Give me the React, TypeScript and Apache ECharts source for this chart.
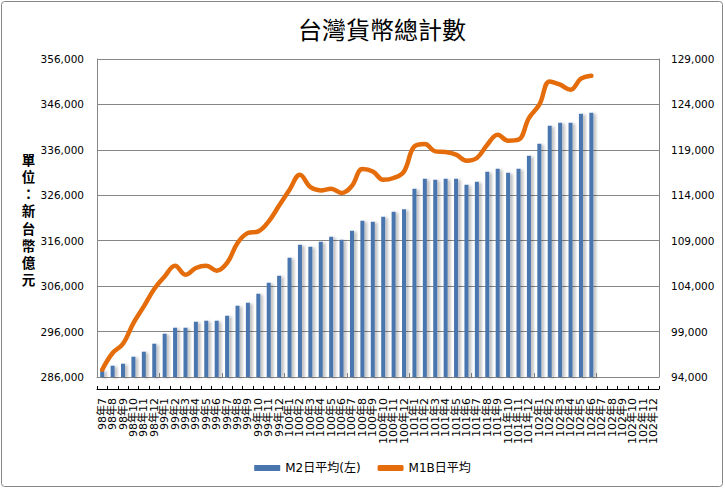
import React, { useEffect, useRef } from "react";
import * as echarts from "echarts";

const TITLE = "台灣貨幣總計數";
const UNIT_LABEL = "單位：新台幣億元";
const SERIES_M2 = "M2日平均(左)";
const SERIES_M1B = "M1B日平均";

const categories: string[] = [
  "98年7", "98年8", "98年9", "98年10", "98年11", "98年12",
  "99年1", "99年2", "99年3", "99年4", "99年5", "99年6", "99年7", "99年8", "99年9", "99年10", "99年11", "99年12",
  "100年1", "100年2", "100年3", "100年4", "100年5", "100年6", "100年7", "100年8", "100年9", "100年10", "100年11", "100年12",
  "101年1", "101年2", "101年3", "101年4", "101年5", "101年6", "101年7", "101年8", "101年9", "101年10", "101年11", "101年12",
  "102年1", "102年2", "102年3", "102年4", "102年5", "102年6", "102年7", "102年8", "102年9", "102年10", "102年11", "102年12",
];

const m2Values: (number | null)[] = [
  287450, 288490, 288930, 290470, 291570, 293330,
  295530, 296850, 296850, 298170, 298390, 298390, 299490, 301690, 302350, 304330, 306750, 308290,
  312260, 315120, 314680, 315780, 316880, 316220, 318200, 320400, 320180, 321280, 322380, 322900,
  327450, 329650, 329430, 329650, 329650, 328330, 328990, 331190, 331850, 330970, 331850, 334710,
  337350, 341310, 341970, 341970, 343950, 344170, null, null, null, null, null, null,
];

const m1bValues: (number | null)[] = [
  94800, 96640, 97660, 99940, 101770, 103690,
  105070, 106250, 105260, 106000, 106250, 105700, 106550, 108750, 109850, 110030, 111130, 112870,
  114610, 116270, 114910, 114540, 114720, 114250, 115050, 116890, 116630, 115710, 115900, 116630,
  119380, 119640, 118830, 118760, 118470, 117810, 118100, 119570, 120670, 120010, 120120, 122500,
  123970, 126530, 126170, 125620, 126830, 127160, null, null, null, null, null, null,
];

const leftAxis = { min: 286000, max: 356000, interval: 10000 };
const rightAxis = { min: 94000, max: 129000, interval: 5000 };

const NUM_FONT = "'DejaVu Sans', 'Noto Sans CJK TC', sans-serif";
const CJK_FONT = "'Noto Sans CJK TC', sans-serif";
const GRID_GRAY = "#868686";

const fmt = (v: number) => v.toLocaleString("en-US");

export default function App() {
  const ref = useRef<HTMLDivElement>(null);

  useEffect(() => {
    document.body.style.margin = "0";
    if (!ref.current) return;
    const chart = echarts.init(ref.current, undefined, { renderer: "svg" });
    const unitChars = UNIT_LABEL.split("");
    const step = 17.2;
    const unitTexts = unitChars.map((ch, i) => ({
      type: "text",
      x: 28.5,
      y: 220 + (i - (unitChars.length - 1) / 2) * step,
      style: {
        text: ch,
        fontFamily: NUM_FONT,
        fontSize: 13.5,
        lineHeight: 14,
        fontWeight: "bold",
        fill: "#000",
        align: "center",
        verticalAlign: "middle",
      },
    }));
    chart.setOption({
      animation: false,
      backgroundColor: "#ffffff",
      title: {
        text: TITLE,
        left: 377,
        top: 11,
        textAlign: "center",
        textStyle: { fontFamily: CJK_FONT, fontSize: 24, fontWeight: "normal", color: "#000" },
      },
      legend: {
        left: "center",
        top: 457,
        itemWidth: 26,
        itemHeight: 6,
        itemGap: 17,
        textStyle: { fontFamily: NUM_FONT, fontSize: 12, color: "#000" },
        data: [
          { name: SERIES_M2, icon: "rect" },
          { name: SERIES_M1B, icon: "roundRect" },
        ],
      },
      grid: { left: 97, right: 66, top: 59, height: 318, containLabel: false },
      xAxis: [
        {
          type: "category",
          data: categories,
          position: "bottom",
          axisLine: { show: true, lineStyle: { color: GRID_GRAY, width: 1 } },
          axisTick: { show: true, inside: true, length: 4, lineStyle: { color: GRID_GRAY } },
          axisLabel: { show: false },
          splitLine: { show: false },
        },
        {
          type: "category",
          data: categories,
          position: "bottom",
          offset: 12,
          axisLine: { show: true, lineStyle: { color: "#000", width: 1 } },
          axisTick: { show: true, inside: true, length: 3, lineStyle: { color: "#000" } },
          axisLabel: {
            show: true,
            interval: 0,
            rotate: 90,
            margin: 9,
            fontFamily: NUM_FONT,
            fontSize: 11,
            color: "#000",
          },
          splitLine: { show: false },
        },
      ],
      yAxis: [
        {
          type: "value",
          min: leftAxis.min,
          max: leftAxis.max,
          interval: leftAxis.interval,
          position: "left",
          axisLine: { show: true, lineStyle: { color: GRID_GRAY } },
          axisTick: { show: false },
          axisLabel: { margin: 13, fontFamily: NUM_FONT, fontSize: 10.5, color: "#000", formatter: fmt },
          splitLine: { show: true, lineStyle: { color: GRID_GRAY, width: 1 } },
        },
        {
          type: "value",
          min: rightAxis.min,
          max: rightAxis.max,
          interval: rightAxis.interval,
          position: "right",
          axisLine: { show: true, lineStyle: { color: GRID_GRAY } },
          axisTick: { show: false },
          axisLabel: { margin: 12, fontFamily: NUM_FONT, fontSize: 10.5, color: "#000", formatter: fmt },
          splitLine: { show: false },
        },
      ],
      series: [
        {
          name: SERIES_M2,
          type: "bar",
          xAxisIndex: 0,
          yAxisIndex: 0,
          data: m2Values,
          barWidth: 4,
          itemStyle: {
            color: "#4A76AE",
            shadowColor: "rgba(0,0,0,0.28)",
            shadowBlur: 3,
            shadowOffsetX: 2.5,
            shadowOffsetY: 1,
          },
        },
        {
          name: SERIES_M1B,
          type: "line",
          xAxisIndex: 0,
          yAxisIndex: 1,
          data: m1bValues,
          smooth: 0.4,
          showSymbol: false,
          symbol: "none",
          connectNulls: false,
          lineStyle: { color: "#E46C0A", width: 4.5, cap: "round", join: "round" },
          itemStyle: { color: "#E46C0A" },
        },
      ],
      graphic: [
        {
          type: "rect",
          shape: { x: 1.5, y: 1.5, width: 721, height: 485, r: 3 },
          style: { fill: "none", stroke: GRID_GRAY, lineWidth: 1 },
          silent: true,
          z: 100,
        },
        ...unitTexts,
      ],
    });
    return () => chart.dispose();
  }, []);

  return <div ref={ref} style={{ width: 725, height: 489 }} />;
}
